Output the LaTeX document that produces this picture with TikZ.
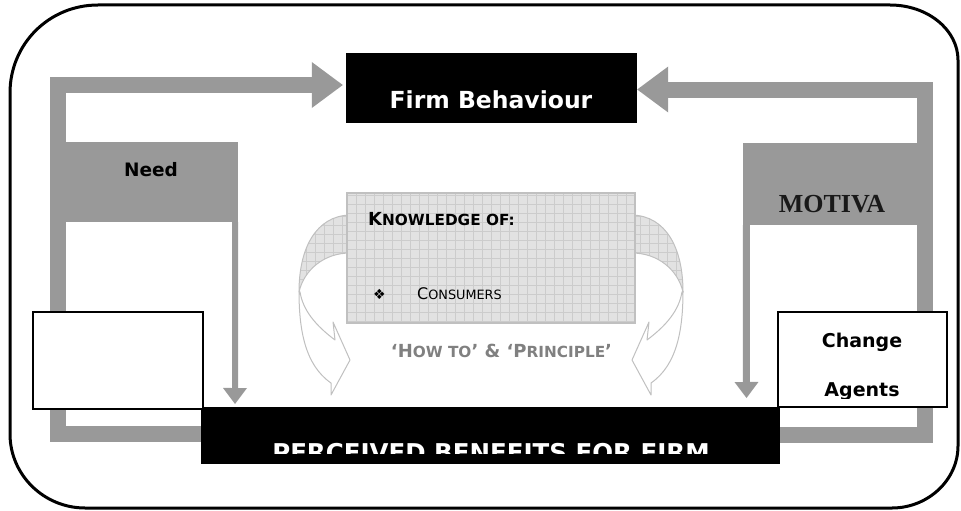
\documentclass[tikz,border=0pt]{standalone}
\usepackage{fontspec}
\setmainfont{DejaVu Sans}
\newfontfamily\motivafont{Liberation Serif}
\usetikzlibrary{arrows.meta,backgrounds}
\definecolor{bandgray}{RGB}{153,153,153}
\definecolor{kfill}{RGB}{226,226,226}
\definecolor{kline}{RGB}{204,204,204}
\definecolor{kedge}{RGB}{192,192,192}
\definecolor{howgray}{RGB}{128,128,128}
\newcommand\fsz[1]{\fontsize{#1}{#1}\selectfont}
\tikzset{
  bandline/.style={draw=bandgray, line width=16pt, line join=miter, line cap=butt},
  bigtip/.style={-{Triangle[length=31pt,width=46pt,line width=0pt]}},
  smalltip/.style={-{Triangle[length=16pt,width=24pt,line width=0pt]}},
  blackbox/.style={fill=black, draw=none, inner sep=0pt},
  whitebox/.style={fill=white, draw=black, line width=2.5pt, inner sep=0pt},
  graybox/.style={fill=bandgray, draw=none, inner sep=0pt},
  gridfill/.style={fill=kfill, path picture={\draw[kline, line width=0.6pt, step=9pt] (path picture bounding box.south west) grid (path picture bounding box.north east);}},
  curvline/.style={draw=kedge, line width=1pt, line join=round},
  lbl/.style={anchor=base, inner sep=0pt},
}
\newcommand\curvedarrowpaths{%
  \path[gridfill, curvline] (350,215) .. controls (316,216) and (299,248) .. (299,292)
      .. controls (304,270) and (324,253) .. (350,253) -- cycle;
  \draw[curvline, fill=white] (299,291) .. controls (299,330) and (305,365) .. (331,383)
      -- (331,395) -- (350,360) -- (333,322) -- (335,340)
      .. controls (315,325) and (303,310) .. (300,292) -- cycle;
}
\begin{document}
\begin{tikzpicture}[x=1pt, y=-1pt]
\useasboundingbox (0,0) rectangle (961,511);
% outer frame (corners drawn as quarter ellipses)
\draw[line width=3pt, line join=round]
  (10,93) .. controls (10,44) and (49,5) .. (98,5)
  -- (890,5) .. controls (928,5) and (958,30) .. (958,60)
  -- (958,446) .. controls (958,480) and (928,508) .. (892,508)
  -- (85,508) .. controls (44,508) and (10,475) .. (10,434) -- cycle;

% black boxes
\node[blackbox, minimum width=291pt, minimum height=70pt] (firm) at (491.5,88) {};
\node[blackbox, minimum width=579pt, minimum height=57pt] (perc) at (490.5,435.5) {};

% big loops behind everything
\begin{pgfonlayer}{background}
\draw[bandline, bigtip] ([yshift=2pt]perc.west) -- (57.5,433.5) -- (57.5,85) -- ([xshift=-3pt,yshift=3pt]firm.west);
\draw[bandline, bigtip] ([yshift=0.5pt]perc.east) -- (925,435) -- (925,89.5) -- ([yshift=-1.5pt]firm.east);
\end{pgfonlayer}

% gray flag boxes with down arrows
\node[graybox, minimum width=173pt, minimum height=80pt] (need) at (151.5,182) {};
\node[graybox, minimum width=174pt, minimum height=82pt] (motiva) at (830,184) {};
\coordinate (needtip) at (235,404);
\coordinate (motivatip) at (746.5,398);
\draw[draw=bandgray, line width=6pt, smalltip] ([xshift=-3pt]need.south east) -- (needtip);
\draw[draw=bandgray, line width=7pt, smalltip] ([xshift=3.5pt]motiva.south west) -- (motivatip);

% white boxes
\node[whitebox, minimum width=170pt, minimum height=97pt] (lbox) at (118,360.5) {};
\node[whitebox, minimum width=169pt, minimum height=95pt] (chg) at (862.5,359.5) {};

% curved arrows and knowledge box
\curvedarrowpaths
\begin{scope}[xshift=982pt, xscale=-1]
\curvedarrowpaths
\end{scope}
\node[gridfill, draw=kedge, line width=1.5pt, minimum width=288pt, minimum height=130pt, inner sep=0pt] (kn) at (491,258) {};

% texts
\node[lbl, text=white, font=\fsz{23.5}\bfseries] (firmtxt) at (491,108) {Firm Behaviour};
\node[lbl, font=\fsz{18.5}\bfseries] (needtxt) at (151,176) {Need};
\node[lbl, text=black!90, font=\motivafont\fsz{26}\bfseries] (motivatxt) at (832,212) {MOTIVA};
\node[lbl, font=\fsz{19}\bfseries] (chgtxt) at (862,347) {Change};
\begin{scope}
\clip (779,313) rectangle (946,398.5);
\node[lbl, font=\fsz{19}\bfseries] (agtxt) at (862,396) {Agents};
\end{scope}
\begin{scope}
\clip (201,407) rectangle (780,453);
\node[lbl, text=white, font=\fsz{24.5}\bfseries] (perctxt) at (491,461) {PERCEIVED BENEFITS FOR FIRM};
\end{scope}
\node[anchor=base west, inner sep=0pt, font=\bfseries] (kntxt) at (368,225) {{\fsz{18}K}{\fsz{15.3}NOWLEDGE OF:}};
\node[anchor=base west, inner sep=0pt, font=\fsz{14}] (bul) at (373,299) {❖};
\node[anchor=base west, inner sep=0pt] (constxt) at (417,299) {{\fsz{16}C}{\fsz{12.8}ONSUMERS}};
\node[lbl, text=howgray, font=\bfseries] (howtxt) at (501.5,357) {{\fsz{18}‘H}{\fsz{15.3}OW TO}{\fsz{18}’ \& ‘P}{\fsz{15.3}RINCIPLE}{\fsz{18}’}};
\end{tikzpicture}
\end{document}
